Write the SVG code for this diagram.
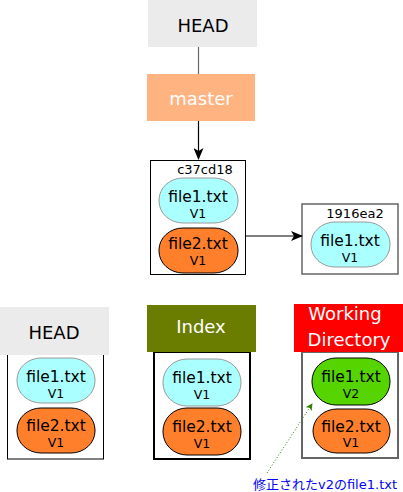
<svg xmlns="http://www.w3.org/2000/svg" width="403" height="492" viewBox="0 0 403 492">
<defs>
<style>
text{font-family:"DejaVu Sans","Noto Sans CJK JP",sans-serif;text-anchor:middle}
.lbl{font-size:18px}
.w{fill:#fff}
.fn{font-size:15.5px;fill:#000}
.v{font-size:12.5px;fill:#000}
.hash{font-size:13px;fill:#000}
.c1{fill:#aaffff;stroke:#999;stroke-width:1}
.c2{fill:#ff7f2a;stroke:#000;stroke-width:1}
.c3{fill:#55d400;stroke:#000;stroke-width:1}
</style>
<marker id="ah" viewBox="0 0 12 10" refX="11" refY="5" markerWidth="12" markerHeight="10" markerUnits="userSpaceOnUse" orient="auto">
<path d="M0,0 L12,5 L0,10 L3,5 Z" fill="#000"/>
</marker>
<marker id="ahg" viewBox="0 0 8 8" refX="7" refY="4" markerWidth="7" markerHeight="7" markerUnits="userSpaceOnUse" orient="auto">
<path d="M0,0 L8,4 L0,8 L2,4 Z" fill="#338000"/>
</marker>
</defs>

<g id="head-top">
<rect x="148" y="0" width="109" height="47" fill="#ebebeb"/>
<text class="lbl" x="203" y="32">HEAD</text>
</g>
<g id="master">
<rect x="147" y="74" width="108" height="47" fill="#ffb380"/>
<text class="lbl w" x="201" y="105">master</text>
</g>

<g id="c37cd18">
<rect x="150.5" y="160.5" width="95" height="114" fill="#fff" stroke="#000" stroke-width="1"/>
<text class="hash" x="205" y="174">c37cd18</text>
<rect class="c1" x="159" y="178" width="79" height="45" rx="24" ry="22"/>
<text class="fn" x="198" y="202">file1.txt</text>
<text class="v" x="198" y="218">V1</text>
<rect class="c2" x="159" y="228" width="79" height="45" rx="24" ry="22"/>
<text class="fn" x="198" y="249">file2.txt</text>
<text class="v" x="198" y="265">V1</text>
</g>

<g id="c1916ea2">
<rect x="302" y="204" width="96" height="70" fill="#fff" stroke="#666" stroke-width="1.5"/>
<text class="hash" x="355" y="218">1916ea2</text>
<rect class="c1" x="311" y="222" width="79" height="45" rx="24" ry="22"/>
<text class="fn" x="350" y="246">file1.txt</text>
<text class="v" x="350" y="262">V1</text>
</g>

<g id="head-bottom">
<rect x="7.5" y="354" width="96" height="105" fill="#fff" stroke="#000" stroke-width="1"/>
<rect x="0" y="307" width="109" height="48" fill="#ebebeb"/>
<text class="lbl" x="54" y="339">HEAD</text>
<rect class="c1" x="17" y="358" width="78" height="45" rx="24" ry="22"/>
<text class="fn" x="56" y="382">file1.txt</text>
<text class="v" x="56" y="398">V1</text>
<rect class="c2" x="17" y="408" width="78" height="45" rx="24" ry="22"/>
<text class="fn" x="56" y="431">file2.txt</text>
<text class="v" x="56" y="447">V1</text>
</g>

<g id="index">
<rect x="154" y="352" width="96" height="107" fill="#fff" stroke="#000" stroke-width="2"/>
<rect x="147" y="305" width="109" height="47" fill="#6b7d00"/>
<text class="lbl w" x="201" y="333">Index</text>
<rect class="c1" x="163" y="359" width="78" height="47" rx="24" ry="23"/>
<text class="fn" x="202" y="383">file1.txt</text>
<text class="v" x="202" y="399">V1</text>
<rect class="c2" x="163" y="408" width="78" height="47" rx="24" ry="23"/>
<text class="fn" x="202" y="432">file2.txt</text>
<text class="v" x="202" y="448">V1</text>
</g>

<g id="working-directory">
<rect x="302" y="352" width="96" height="106" fill="#fff" stroke="#666" stroke-width="2"/>
<rect x="294" y="304" width="109" height="48" fill="#ff0000"/>
<text class="lbl w" x="345" y="320">Working</text>
<text class="lbl w" x="349" y="346">Directory</text>
<rect class="c3" x="312" y="358" width="78" height="47" rx="24" ry="23"/>
<text class="fn" x="351" y="382">file1.txt</text>
<text class="v" x="351" y="398">V2</text>
<rect class="c2" x="313" y="409" width="77" height="44" rx="24" ry="22"/>
<text class="fn" x="351" y="432">file2.txt</text>
<text class="v" x="351" y="447">V1</text>
</g>

<g id="note">
<text x="325" y="489" style="font-size:13px;fill:#0000ff">修正されたv2のfile1.txt</text>
</g>

<g id="connectors">
<line x1="198.5" y1="47" x2="198.5" y2="74" stroke="#666" stroke-width="1.2"/>
<line x1="198.5" y1="121" x2="198.5" y2="159" stroke="#000" stroke-width="1.2" marker-end="url(#ah)"/>
<line x1="246" y1="236" x2="302" y2="236" stroke="#000" stroke-width="1.2" marker-end="url(#ah)"/>
<line x1="267" y1="473" x2="312" y2="404" stroke="#338000" stroke-width="1" stroke-dasharray="1,2" marker-end="url(#ahg)"/>
</g>
</svg>
